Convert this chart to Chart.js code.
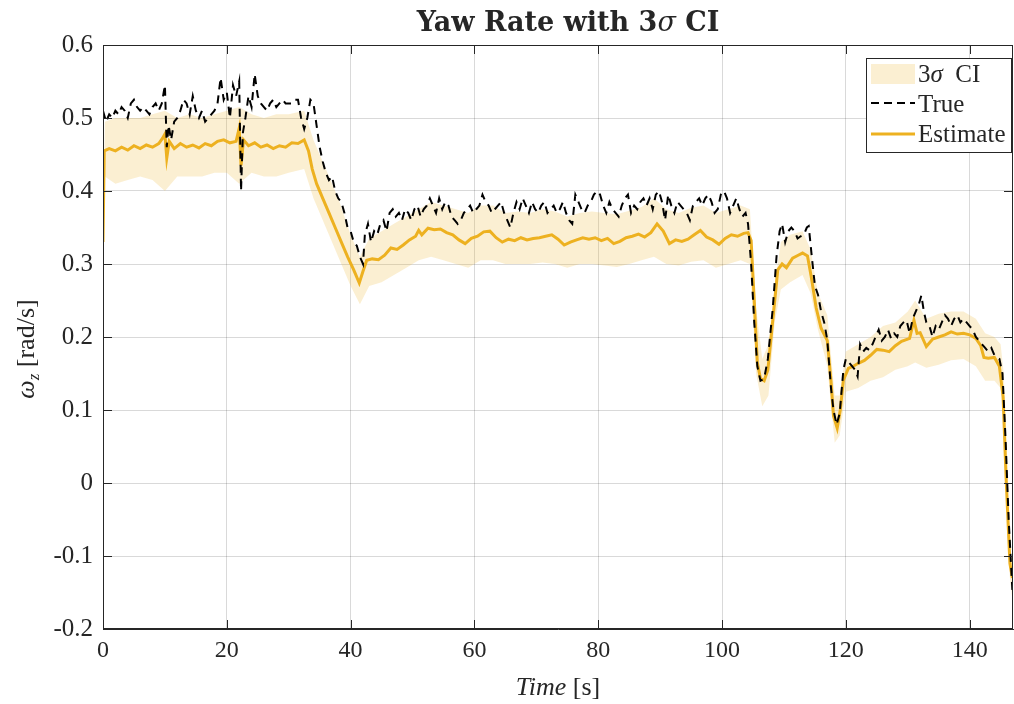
<!DOCTYPE html>
<html>
<head>
<meta charset="utf-8">
<script src="https://cdn.jsdelivr.net/npm/chart.js@4.4.1/dist/chart.umd.min.js"></script>
<style>
  html, body { margin: 0; padding: 0; background: #fff; }
  #caja { width: 1014px; height: 704px; }
</style>
</head>
<body>
<div id="caja"><canvas id="grafica" width="1014" height="704"></canvas></div>
<script>
// time [s] and yaw rate [rad/s]
const tTrue = [0, 0.5, 1, 1.5, 2, 2.5, 3, 3.5, 4, 4.5, 5, 5.5, 6, 6.5, 7, 7.5, 8, 8.5, 9, 9.5,
  10, 10.3, 10.6, 11, 11.5, 12, 12.5, 13, 13.5, 14, 14.5, 15, 15.5, 16, 16.5, 17, 17.5, 18, 18.5, 19,
  19.5, 20, 20.5, 21, 21.5, 22, 22.3, 22.6, 23, 23.5, 24, 24.5, 25, 25.5, 26, 26.5, 27, 27.5, 28, 28.5,
  29, 29.5, 30, 30.5, 31, 31.5, 32, 32.5, 33, 33.5, 34, 34.5, 35, 35.5, 36, 36.5, 37, 37.5, 38, 38.5,
  39, 39.5, 40, 40.5, 41, 41.5, 42, 42.3, 42.8, 43.3, 43.8, 44.3, 44.8, 45.3, 45.8, 46.3, 46.8, 47.3, 47.8, 48.3,
  48.8, 49.3, 49.8, 50.3, 50.8, 51.3, 51.8, 52.3, 52.8, 53.3, 53.8, 54.3, 54.8, 55.3, 55.8, 56.3, 56.8, 57.3,
  57.8, 58.3, 58.8, 59.3, 59.8, 60.3, 60.8, 61.3, 61.8, 62.3, 62.8, 63.3, 63.8, 64.3, 64.8, 65.3, 65.8, 66.3,
  66.8, 67.3, 67.8, 68.3, 68.8, 69.3, 69.8, 70.3, 70.8, 71.3, 71.8, 72.3, 72.8, 73.3, 73.8, 74.3, 74.8, 75.3,
  75.8, 76.3, 76.8, 77.3, 77.8, 78.3, 78.8, 79.3, 79.8, 80.3, 80.8, 81.3, 81.8, 82.3, 82.8, 83.3, 83.8, 84.3,
  84.8, 85.3, 85.8, 86.3, 86.8, 87.3, 87.8, 88.3, 88.8, 89.3, 89.8, 90.3, 90.8, 91.3, 91.8, 92.3, 92.8, 93.3,
  93.8, 94.3, 94.8, 95.3, 95.8, 96.3, 96.8, 97.3, 97.8, 98.3, 98.8, 99.3, 99.8, 100.3, 100.8, 101.3, 101.8, 102.3,
  102.8, 103.3, 103.8, 104.2, 104.7, 105.2, 105.7, 106.2, 106.8, 107.4, 108.2, 108.8, 109.3, 109.7, 110.2, 110.7,
  111.2, 111.7, 112.2, 112.7, 113.2, 113.7, 114, 114.5, 115, 115.5, 116, 116.5, 117, 117.6, 118, 118.5, 119,
  119.6, 120, 120.5, 121, 121.5, 121.9, 122.3, 122.8, 123.3, 123.8, 124.3, 124.8, 125.3, 125.8, 126.3, 126.8,
  127.3, 127.8, 128.3, 128.8, 129.3, 129.8, 130.3, 130.8, 131.3, 131.8, 132.2, 132.6, 133, 133.5, 134, 134.5,
  135, 135.5, 136, 136.5, 137, 137.5, 138, 138.5, 139, 139.5, 140, 140.5, 141, 141.5, 142, 142.5, 143, 143.5,
  144, 144.8, 145.3, 145.8, 146.3, 146.9];
const trueRate = [0.51, 0.495, 0.505, 0.5, 0.51, 0.505, 0.515, 0.51, 0.5, 0.52, 0.525, 0.515, 0.51, 0.515, 0.51, 0.505, 0.515, 0.52, 0.51, 0.52,
  0.545, 0.46, 0.49, 0.47, 0.495, 0.5, 0.51, 0.525, 0.52, 0.505, 0.53, 0.51, 0.5, 0.51, 0.495, 0.5, 0.505, 0.51, 0.52, 0.555,
  0.525, 0.535, 0.5, 0.545, 0.53, 0.55, 0.4, 0.48, 0.5, 0.53, 0.515, 0.56, 0.53, 0.52, 0.515, 0.51, 0.52, 0.525, 0.515, 0.52,
  0.525, 0.52, 0.52, 0.52, 0.525, 0.525, 0.5, 0.485, 0.5, 0.525, 0.52, 0.49, 0.46, 0.44, 0.425, 0.415, 0.42, 0.4, 0.39, 0.385,
  0.37, 0.35, 0.345, 0.33, 0.325, 0.31, 0.3, 0.34, 0.355, 0.33, 0.345, 0.34, 0.355, 0.36, 0.345, 0.37, 0.375, 0.365, 0.37, 0.36,
  0.375, 0.37, 0.36, 0.375, 0.38, 0.365, 0.375, 0.38, 0.39, 0.38, 0.37, 0.39, 0.375, 0.385, 0.38, 0.365, 0.36, 0.355,
  0.36, 0.37, 0.375, 0.38, 0.37, 0.375, 0.38, 0.395, 0.385, 0.38, 0.37, 0.375, 0.38, 0.385, 0.37, 0.36, 0.35, 0.37,
  0.385, 0.375, 0.39, 0.38, 0.37, 0.385, 0.375, 0.37, 0.38, 0.385, 0.37, 0.375, 0.38, 0.37, 0.375, 0.385, 0.37, 0.36,
  0.355, 0.395, 0.385, 0.375, 0.37, 0.38, 0.385, 0.395, 0.4, 0.395, 0.38, 0.37, 0.385, 0.375, 0.37, 0.365, 0.38, 0.39,
  0.395, 0.37, 0.38, 0.375, 0.385, 0.39, 0.38, 0.39, 0.375, 0.395, 0.4, 0.385, 0.36, 0.395, 0.38, 0.37, 0.385, 0.38,
  0.375, 0.37, 0.36, 0.38, 0.385, 0.39, 0.38, 0.39, 0.395, 0.385, 0.37, 0.375, 0.395, 0.4, 0.39, 0.37, 0.38, 0.39,
  0.375, 0.365, 0.37, 0.355, 0.3, 0.22, 0.16, 0.14, 0.143, 0.17, 0.24, 0.31, 0.345, 0.355, 0.33, 0.345,
  0.35, 0.345, 0.335, 0.338, 0.34, 0.35, 0.352, 0.31, 0.27, 0.258, 0.235, 0.22, 0.196, 0.13, 0.1, 0.08, 0.095,
  0.155, 0.17, 0.165, 0.16, 0.155, 0.146, 0.19, 0.18, 0.185, 0.182, 0.19, 0.2, 0.21, 0.195, 0.2, 0.21,
  0.198, 0.205, 0.2, 0.215, 0.22, 0.223, 0.205, 0.225, 0.235, 0.245, 0.257, 0.235, 0.22, 0.215, 0.2, 0.215,
  0.21, 0.22, 0.23, 0.225, 0.215, 0.225, 0.23, 0.22, 0.225, 0.22, 0.215, 0.21, 0.2, 0.195, 0.19, 0.185, 0.18, 0.185,
  0.175, 0.17, 0.15, 0.06, -0.05, -0.147];

const tEst = [0, 0.2, 1, 2, 3, 4, 5, 6, 7, 8, 9, 9.6, 10, 10.3, 10.7, 11.5, 12.5, 13.5, 14.5, 15.5, 16.5, 17.5, 18.5,
  19.5, 20.5, 21.5, 22, 22.3, 22.7, 23.5, 24.5, 25.5, 26.5, 27.5, 28.5, 29.5, 30.5, 31.5, 32.5, 33.2, 33.8, 34.5,
  35.5, 36.5, 37.5, 38.5, 39.5, 40.5, 41.4, 42, 42.6, 43.5, 44.5, 45.5, 46.5, 47.5, 48.5, 49.5, 50.5, 51, 51.5,
  52.5, 53.5, 54.5, 55.5, 56.5, 57.5, 58.5, 59.5, 60.5, 61.5, 62.5, 63.5, 64.5, 65.5, 66.5, 67.5, 68.5, 69.5,
  70.5, 71.5, 72.5, 73.5, 74.5, 75.5, 76.5, 77.5, 78.5, 79.5, 80.5, 81.5, 82.5, 83.5, 84.5, 85.5, 86.5, 87.5,
  88.5, 89.5, 90.5, 91.5, 92.5, 93.5, 94.5, 95.5, 96.5, 97.5, 98.5, 99.5, 100.5, 101.5, 102.5, 103.5, 104.2,
  104.7, 105.2, 105.7, 106.2, 106.8, 107.4, 108.2, 109, 109.7, 110.4, 111.4, 112.3, 113, 113.8, 114.4, 115.2,
  116, 117, 117.6, 118, 118.6, 119.1, 119.6, 120.4, 121.2, 122, 123, 124, 125, 126, 127, 128, 129, 130.3, 131,
  131.5, 132, 133, 134, 135, 136, 137, 138, 139, 140, 141, 141.8, 142.3, 143, 144, 144.8, 145.4, 145.9, 146.5, 146.9];
const estRate = [0.33, 0.455, 0.458, 0.455, 0.46, 0.456, 0.462, 0.458, 0.463, 0.46, 0.465, 0.472, 0.478, 0.445, 0.468, 0.458, 0.465, 0.46, 0.463, 0.459, 0.465, 0.462, 0.468,
  0.47, 0.466, 0.468, 0.486, 0.435, 0.47, 0.462, 0.466, 0.46, 0.463, 0.458, 0.462, 0.46, 0.466, 0.465, 0.47, 0.455, 0.43, 0.41,
  0.39, 0.37, 0.35, 0.33, 0.31, 0.292, 0.274, 0.29, 0.305, 0.307, 0.306, 0.312, 0.322, 0.32, 0.326, 0.333, 0.338, 0.346, 0.34,
  0.349, 0.347, 0.348, 0.343, 0.34, 0.333, 0.328, 0.335, 0.338, 0.344, 0.345, 0.336, 0.33, 0.334, 0.332, 0.336, 0.333, 0.335,
  0.336, 0.338, 0.34, 0.334, 0.326, 0.33, 0.333, 0.336, 0.334, 0.336, 0.332, 0.335, 0.328, 0.331, 0.336, 0.338, 0.341, 0.337,
  0.343, 0.355, 0.345, 0.328, 0.333, 0.331, 0.334, 0.34, 0.346, 0.337, 0.333, 0.327, 0.335, 0.34, 0.338, 0.342, 0.343,
  0.332, 0.25, 0.165, 0.143, 0.14, 0.155, 0.223, 0.292, 0.3, 0.295, 0.308, 0.312, 0.315, 0.311, 0.283, 0.24,
  0.212, 0.195, 0.14, 0.092, 0.075, 0.1, 0.141, 0.157, 0.16, 0.164, 0.168, 0.175, 0.183, 0.182, 0.18, 0.188, 0.194, 0.198, 0.223,
  0.205, 0.206, 0.187, 0.197, 0.2, 0.203, 0.207, 0.204, 0.205, 0.203, 0.198, 0.188, 0.172, 0.171, 0.172, 0.16, 0.118, 0.004, -0.11, -0.13];

const tBand = [0, 0.3, 2, 4, 6, 8, 10, 12, 14, 16, 18, 20, 22, 24, 26, 28, 30, 32.5, 34, 36, 38, 40, 41.5, 43, 45,
  47, 49, 51, 53, 55, 57, 59, 61, 63, 65, 67, 69, 71, 73, 75, 77, 79, 81, 83, 85, 87, 89, 91, 93, 95, 97, 99,
  101, 103, 104.5, 105.5, 106.5, 107.5, 108.5, 109.5, 111, 113, 114.3, 115.5, 117, 118.2, 119, 120, 122, 124,
  126, 128, 130, 131.2, 133, 135, 137, 139, 141, 142.5, 144, 145, 145.5, 146, 146.5, 146.9];
const bandLow = [0.31, 0.42, 0.41, 0.415, 0.42, 0.415, 0.4, 0.42, 0.42, 0.42, 0.425, 0.425, 0.41, 0.425, 0.42, 0.42, 0.425, 0.43, 0.39, 0.35, 0.31, 0.27, 0.245, 0.27, 0.275,
  0.285, 0.295, 0.305, 0.31, 0.305, 0.3, 0.295, 0.305, 0.305, 0.3, 0.3, 0.3, 0.302, 0.3, 0.295, 0.3, 0.3, 0.298, 0.296, 0.3, 0.305, 0.31, 0.3, 0.298, 0.303, 0.305, 0.295,
  0.3, 0.305, 0.3, 0.15, 0.105, 0.12, 0.22, 0.265, 0.275, 0.285, 0.26, 0.21, 0.16, 0.055, 0.065, 0.125, 0.13, 0.14,
  0.145, 0.155, 0.16, 0.165, 0.158, 0.162, 0.168, 0.17, 0.16, 0.14, 0.14, 0.13, 0.09, -0.03, -0.13, -0.16];
const bandHigh = [0.35, 0.495, 0.5, 0.5, 0.5, 0.505, 0.51, 0.5, 0.505, 0.5, 0.505, 0.51, 0.515, 0.505, 0.5, 0.505, 0.505, 0.51, 0.47, 0.43, 0.39, 0.34, 0.31, 0.335, 0.345,
  0.355, 0.365, 0.375, 0.385, 0.38, 0.375, 0.37, 0.38, 0.38, 0.37, 0.372, 0.37, 0.375, 0.372, 0.365, 0.37, 0.372, 0.37, 0.368, 0.373, 0.378, 0.39, 0.375, 0.37, 0.377, 0.38, 0.37,
  0.375, 0.38, 0.375, 0.24, 0.17, 0.19, 0.27, 0.33, 0.34, 0.345, 0.32, 0.26, 0.23, 0.12, 0.12, 0.18, 0.19, 0.2,
  0.215, 0.22, 0.235, 0.25, 0.225, 0.232, 0.235, 0.235, 0.225, 0.205, 0.2, 0.19, 0.15, 0.04, -0.09, -0.11];

const xTicks = [0, 20, 40, 60, 80, 100, 120, 140];
const yTicks = [-0.2, -0.1, 0, 0.1, 0.2, 0.3, 0.4, 0.5, 0.6];

const fuente = "'Liberation Serif', 'DejaVu Serif', serif";
const fuenteTitulo = "'DejaVu Serif', 'Liberation Serif', serif";
const amarillo = '#EDB120';
const banda = 'rgba(237, 177, 32, 0.2)';

function puntos(xs, ys) {
  return xs.map((x, i) => ({ x: x, y: ys[i] }));
}

// draws runs of text with different fonts, centred on (cx, cy)
function textoMixto(ctx, partes, cx, cy) {
  let ancho = 0;
  partes.forEach(p => { ctx.font = p.font; ancho += ctx.measureText(p.t).width; });
  let x = cx - ancho / 2;
  ctx.textBaseline = 'alphabetic';
  ctx.textAlign = 'left';
  partes.forEach(p => {
    ctx.font = p.font;
    ctx.fillText(p.t, x, cy + (p.dy || 0));
    x += ctx.measureText(p.t).width;
  });
}

const adornos = {
  id: 'adornos',
  afterDraw(chart) {
    const ctx = chart.ctx;
    const a = chart.chartArea;
    const sx = chart.scales.x, sy = chart.scales.y;
    ctx.save();
    ctx.fillStyle = '#262626';
    ctx.strokeStyle = '#262626';
    ctx.lineWidth = 1;

    // axes box
    ctx.strokeRect(a.left + 0.5, a.top + 0.5, a.right - a.left - 1, a.bottom - a.top - 1);

    // inward tick marks
    ctx.beginPath();
    xTicks.forEach(v => {
      const px = Math.round(sx.getPixelForValue(v)) + 0.5;
      ctx.moveTo(px, a.bottom); ctx.lineTo(px, a.bottom - 9);
      ctx.moveTo(px, a.top); ctx.lineTo(px, a.top + 9);
    });
    yTicks.forEach(v => {
      const py = Math.round(sy.getPixelForValue(v)) + 0.5;
      ctx.moveTo(a.left, py); ctx.lineTo(a.left + 9, py);
      ctx.moveTo(a.right, py); ctx.lineTo(a.right - 9, py);
    });
    ctx.stroke();

    const cx = (a.left + a.right) / 2;
    // title
    textoMixto(ctx, [
      { t: 'Yaw Rate with 3', font: 'bold 27px ' + fuenteTitulo },
      { t: 'σ', font: 'italic 27px ' + fuenteTitulo },
      { t: ' CI', font: 'bold 27px ' + fuenteTitulo }
    ], cx + 10, 31);

    // x label
    textoMixto(ctx, [
      { t: 'Time', font: 'italic 26px ' + fuente },
      { t: ' [s]', font: '26px ' + fuente }
    ], cx, 695);

    // y label
    ctx.save();
    ctx.translate(34, 349);
    ctx.rotate(-Math.PI / 2);
    textoMixto(ctx, [
      { t: 'ω', font: 'italic 26px ' + fuente },
      { t: 'z', font: 'italic 17px ' + fuente, dy: 5 },
      { t: ' [rad/s]', font: '26px ' + fuente }
    ], 0, 0);
    ctx.restore();

    // legend
    const lx = 866, ly = 58, lw = 145, lh = 94;
    ctx.fillStyle = '#ffffff';
    ctx.fillRect(lx, ly, lw, lh);
    ctx.strokeStyle = '#262626';
    ctx.strokeRect(lx + 0.5, ly + 0.5, lw, lh);
    ctx.fillStyle = banda;
    ctx.fillRect(871, 64, 44, 20);
    ctx.lineWidth = 2;
    ctx.strokeStyle = '#000000';
    ctx.setLineDash([8, 5]);
    ctx.beginPath(); ctx.moveTo(871, 103); ctx.lineTo(915, 103); ctx.stroke();
    ctx.setLineDash([]);
    ctx.lineWidth = 3;
    ctx.strokeStyle = amarillo;
    ctx.beginPath(); ctx.moveTo(871, 134); ctx.lineTo(915, 134); ctx.stroke();
    ctx.fillStyle = '#262626';
    ctx.textAlign = 'left';
    ctx.textBaseline = 'alphabetic';
    ctx.font = '25px ' + fuente;
    ctx.fillText('3', 918, 82);
    let w3 = ctx.measureText('3').width;
    ctx.font = 'italic 25px ' + fuente;
    ctx.fillText('σ', 918 + w3, 82);
    let ws = ctx.measureText('σ').width;
    ctx.font = '25px ' + fuente;
    ctx.fillText('  CI', 918 + w3 + ws, 82);
    ctx.fillText('True', 918, 112);
    ctx.fillText('Estimate', 918, 142);
    ctx.restore();
  }
};

const ctx = document.getElementById('grafica');

new Chart(ctx, {
  type: 'line',
  data: {
    datasets: [
      {
        label: '3σ CI',
        data: puntos(tBand, bandHigh),
        borderWidth: 0,
        pointRadius: 0,
        backgroundColor: banda,
        fill: '+1',
        order: 3
      },
      {
        label: '3σ CI low',
        data: puntos(tBand, bandLow),
        borderWidth: 0,
        pointRadius: 0,
        fill: false,
        order: 4
      },
      {
        label: 'True',
        data: puntos(tTrue, trueRate),
        borderColor: '#000000',
        borderWidth: 2,
        borderDash: [8, 6],
        pointRadius: 0,
        fill: false,
        order: 0
      },
      {
        label: 'Estimate',
        data: puntos(tEst, estRate),
        borderColor: amarillo,
        borderWidth: 3,
        pointRadius: 0,
        fill: false,
        order: 1
      }
    ]
  },
  options: {
    responsive: false,
    animation: false,
    devicePixelRatio: 1,
    layout: { padding: { top: 45, right: 1, left: 0, bottom: 0 } },
    plugins: {
      legend: { display: false },
      title: { display: false },
      tooltip: { enabled: false }
    },
    scales: {
      x: {
        type: 'linear',
        min: 0,
        max: 147,
        afterFit: s => { s.height = 75; },
        afterBuildTicks: s => { s.ticks = xTicks.map(v => ({ value: v })); },
        grid: { color: 'rgba(0,0,0,0.15)', drawTicks: false },
        border: { color: '#262626' },
        ticks: { color: '#262626', font: { family: fuente, size: 24 }, padding: 7, maxRotation: 0 }
      },
      y: {
        min: -0.2,
        max: 0.6,
        afterFit: s => { s.width = 103; },
        afterBuildTicks: s => { s.ticks = yTicks.map(v => ({ value: v })); },
        grid: { color: 'rgba(0,0,0,0.15)', drawTicks: false },
        border: { color: '#262626' },
        ticks: {
          color: '#262626',
          font: { family: fuente, size: 25 },
          padding: 10,
          callback: v => (Math.abs(v) < 1e-9 ? '0' : v.toFixed(1))
        }
      }
    }
  },
  plugins: [adornos]
});
</script>
</body>
</html>
